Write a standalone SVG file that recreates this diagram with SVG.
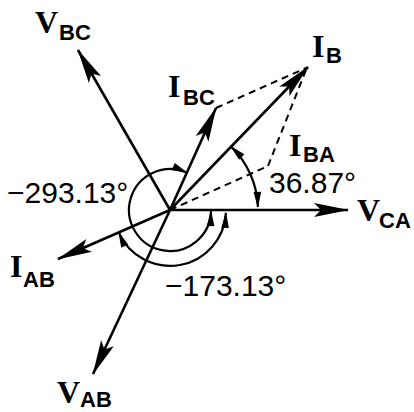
<svg xmlns="http://www.w3.org/2000/svg" width="414" height="412" viewBox="0 0 414 412">
<style>
.vec{stroke:#000;stroke-width:2.6;fill:none;marker-end:url(#ah)}
.dash{stroke:#000;stroke-width:2;fill:none;stroke-dasharray:7 5}
.arc{stroke:#000;stroke-width:2.2;fill:none;marker-start:url(#sa);marker-end:url(#sa)}
.m{font-family:"Liberation Serif","Times New Roman",serif;font-weight:bold;font-size:32px;fill:#000}
.s{font-family:"Liberation Sans",Arial,sans-serif;font-weight:bold;font-size:22px;fill:#000}
.n{font-family:"Liberation Sans",Arial,sans-serif;font-size:30px;fill:#000}
</style>
<defs>
<marker id="ah" viewBox="-36 -8 38 16" markerWidth="38" markerHeight="16" refX="0" refY="0" orient="auto" markerUnits="userSpaceOnUse">
<path d="M1,0 L-34,-7 L-27,0 L-34,7 Z" fill="#000"/>
</marker>
<marker id="sa" viewBox="-16 -5 17 10" markerWidth="17" markerHeight="10" refX="0" refY="0" orient="auto-start-reverse" markerUnits="userSpaceOnUse">
<path d="M1,0 L-15,-3.8 L-15,3.8 Z" fill="#000"/>
</marker>
</defs>
<g id="connectors">
<path class="vec" d="M170,210 L78,50"/>
<path class="vec" d="M170,210 L93,374"/>
<path class="vec" d="M170,210 L348,210"/>
<path class="vec" d="M170,210 L216,108"/>
<path class="vec" d="M170,210 L308,67"/>
<path class="vec" d="M170,210 L58,259"/>
<path class="dash" d="M170,210 L268,166"/>
<path class="dash" d="M216,108 L306,68"/>
<path class="dash" d="M268,166 L306,70"/>
<path class="arc" d="M211,211.1 A41,41 0 1 1 186.9,172.6"/>
<path class="arc" d="M225.9,212.9 A56,56 0 0 1 118.7,232.4"/>
<path class="arc" d="M257.9,206.9 A88,88 0 0 0 230.9,146.5"/>
</g>
<g id="VBC"><text class="m" x="35" y="33">V</text><text class="s" x="59" y="40">BC</text></g>
<g id="IBC"><text class="m" x="168" y="97">I</text><text class="s" x="183" y="105">BC</text></g>
<g id="IB"><text class="m" x="312" y="57">I</text><text class="s" x="326" y="63">B</text></g>
<g id="IBA"><text class="m" x="289" y="156">I</text><text class="s" x="303" y="162">BA</text></g>
<g id="IAB"><text class="m" x="10" y="277">I</text><text class="s" x="23" y="287">AB</text></g>
<g id="VAB"><text class="m" x="57" y="403">V</text><text class="s" x="80" y="407">AB</text></g>
<g id="VCA"><text class="m" x="357" y="221">V</text><text class="s" x="379" y="228">CA</text></g>
<g id="angles">
<text class="n" x="7" y="203">−293.13°</text>
<text class="n" x="269" y="193">36.87°</text>
<text class="n" x="165" y="296">−173.13°</text>
</g>
</svg>
